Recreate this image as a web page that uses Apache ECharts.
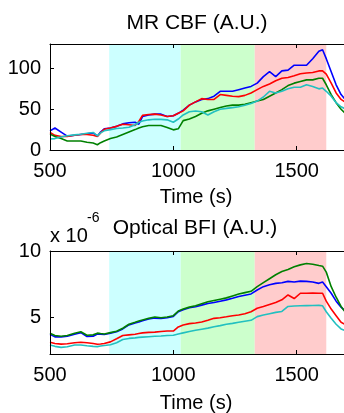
<!DOCTYPE html>
<html>
<head>
<meta charset="utf-8">
<script src="https://cdn.jsdelivr.net/npm/echarts@6/dist/echarts.min.js"></script>
<style>
  html, body { margin: 0; padding: 0; background: #fff; overflow: hidden; }
  #chart { width: 344px; height: 413px; }
</style>
</head>
<body>
<div id="chart"></div>
<script>
// time samples (s), shared by both panels
const times = [500, 520, 545, 570, 600, 625, 650, 675, 692, 705, 720, 745, 770, 795, 820, 845, 860, 875, 900, 925,
  950, 975, 1000, 1020, 1040, 1065, 1090, 1115, 1140, 1165, 1190, 1215, 1240, 1265, 1290, 1315, 1340, 1365, 1390, 1415,
  1440, 1465, 1490, 1515, 1540, 1565, 1590, 1605, 1620, 1640, 1660, 1680, 1700, 1720];

// MR CBF (A.U.)
const mrBlue = [23.5, 27, 22, 17, 18, 19, 20, 21, 17, 22, 26, 27, 29, 32, 33.5, 34, 31.6, 41, 43, 44,
  44, 41, 42, 45, 49, 55, 59, 62, 63, 66, 72, 72, 72, 74, 76, 78, 82, 90, 96, 90,
  97, 98, 104, 104, 104, 112, 121, 123, 112, 96, 80, 68, 61, 58];
const mrRed = [21.5, 18, 16.6, 16.6, 18, 19, 19, 18, 16.6, 21, 25.5, 27, 29, 31.6, 31, 30, 35, 42.5, 43.5, 44,
  43, 41, 42, 45, 48, 55, 59, 63, 62, 62, 68, 67, 66, 65.5, 67, 70, 74, 78, 81, 85,
  88, 89, 91, 93.5, 94.5, 95, 97, 97, 93, 82, 70, 62, 58, 55];
const mrGreen = [19.5, 16.6, 14, 11, 11, 11, 9.5, 8.5, 6.5, 9, 11, 14, 16, 19, 22, 25, 27, 28.5, 30, 30,
  30, 27.5, 24.7, 26, 36, 38, 41, 45, 48, 50, 52, 54, 55, 55, 56, 58, 60, 62, 66, 70,
  74, 79, 82, 84, 86, 86, 88, 88, 80, 68, 58, 50, 44, 41];
const mrCyan = [13.4, 14, 16, 17.4, 18.5, 19.4, 20.5, 21.5, 17.4, 21, 23.5, 25, 26.3, 27, 28, 31, 34, 35.5, 37, 37.7,
  37.5, 37, 34, 38, 43, 47, 47.8, 47, 43, 47, 50, 51, 52, 53, 55, 57, 60, 65, 72, 70,
  72, 75, 77, 77, 80, 78, 75, 76, 72, 66, 58, 53, 50, 48];

// Optical BFI (x 10^-6)
const bfiBlue = [3.7, 3.5, 3.5, 3.55, 3.7, 3.82, 3.52, 3.55, 3.72, 3.7, 3.68, 3.78, 3.88, 4.1, 4.4, 4.55, 4.62, 4.72, 4.85, 4.92,
  4.9, 4.95, 5.05, 5.4, 5.55, 5.7, 5.78, 5.9, 6.02, 6.1, 6.2, 6.3, 6.42, 6.55, 6.65, 6.75, 7.05, 7.3, 7.45, 7.55,
  7.6, 7.7, 7.65, 7.72, 7.7, 7.65, 7.55, 7.65, 7.3, 6.8, 6.2, 5.75, 5.4, 5.2];
const bfiGreen = [3.77, 3.6, 3.55, 3.6, 3.77, 3.88, 3.62, 3.65, 3.78, 3.75, 3.72, 3.82, 3.92, 4.15, 4.45, 4.6, 4.7, 4.78, 4.9, 5.0,
  4.95, 5.0, 5.1, 5.45, 5.6, 5.75, 5.85, 6.0, 6.15, 6.25, 6.35, 6.45, 6.6, 6.75, 6.85, 6.95, 7.3, 7.6, 7.9, 8.2,
  8.45, 8.6, 8.8, 8.95, 9.05, 9.0, 8.9, 8.85, 8.4, 7.3, 6.5, 5.8, 5.3, 5.0];
const bfiRed = [3.09, 3.0, 2.95, 2.98, 3.05, 3.09, 3.05, 3.0, 2.94, 2.96, 3.0, 3.12, 3.35, 3.6, 3.65, 3.7, 3.75, 3.8, 3.84, 3.86,
  3.9, 3.94, 3.94, 4.25, 4.4, 4.5, 4.55, 4.62, 4.75, 4.9, 4.95, 5.02, 5.1, 5.15, 5.25, 5.4, 5.66, 5.8, 5.95, 6.1,
  6.3, 6.67, 6.4, 6.8, 6.8, 6.82, 6.8, 6.8, 6.2, 5.6, 5.1, 4.6, 4.4, 4.25];
const bfiCyan = [2.88, 2.78, 2.7, 2.75, 2.88, 2.88, 2.82, 2.78, 2.76, 2.8, 2.84, 2.9, 3.05, 3.3, 3.38, 3.42, 3.46, 3.48, 3.51, 3.54,
  3.56, 3.6, 3.62, 3.72, 3.8, 3.9, 4.0, 4.08, 4.16, 4.27, 4.35, 4.45, 4.52, 4.6, 4.68, 4.75, 5.03, 5.15, 5.25, 5.35,
  5.42, 5.8, 5.84, 5.85, 5.86, 5.87, 5.88, 5.85, 5.4, 4.9, 4.45, 4.1, 3.95, 3.8];

// shaded task periods
const bandStarts = [740, 1030, 1330];
const bandEnds = [1030, 1330, 1620];
const bandColors = ['#ccffff', '#ccffcc', '#ffcccc'];

const xTicks = [500, 1000, 1500, 2000];
const mrTicks = [0, 50, 100];
const bfiTicks = [5, 10];

const font = '"Liberation Sans", Arial, sans-serif';
const chart = echarts.init(document.getElementById('chart'));

function xAxes(gridIndex) {
  return [
    {
      gridIndex, type: 'value', min: 500, max: 2000, position: 'bottom', z: 10,
      splitLine: { show: false },
      axisLine: { lineStyle: { color: '#000', width: 1 } },
      axisTick: { inside: true, length: 4, customValues: xTicks, lineStyle: { color: '#000' } },
      axisLabel: { customValues: xTicks, formatter: v => String(v), margin: 11, color: '#000', fontFamily: font, fontSize: 20 }
    },
    {
      gridIndex, type: 'value', min: 500, max: 2000, position: 'top', z: 10,
      splitLine: { show: false },
      axisLine: { lineStyle: { color: '#000', width: 1 } },
      axisTick: { inside: true, length: 4, customValues: xTicks, lineStyle: { color: '#000' } },
      axisLabel: { show: false }
    }
  ];
}

function yAxis(gridIndex, min, max, ticks) {
  return {
    gridIndex, type: 'value', min, max, z: 10,
    splitLine: { show: false },
    axisLine: { show: true, lineStyle: { color: '#000', width: 1 } },
    axisTick: { show: true, inside: true, length: 4, customValues: ticks, lineStyle: { color: '#000' } },
    axisLabel: { customValues: ticks, margin: 9, color: '#000', fontFamily: font, fontSize: 20 }
  };
}

function bands(axisIndex) {
  return {
    type: 'line', xAxisIndex: axisIndex, yAxisIndex: axisIndex / 2, data: [], silent: true, z: 1,
    markArea: {
      silent: true,
      data: bandStarts.map((s, i) => [{ xAxis: s, itemStyle: { color: bandColors[i], opacity: 1 } }, { xAxis: bandEnds[i] }])
    }
  };
}

function line(values, color, axisIndex) {
  return {
    type: 'line', xAxisIndex: axisIndex, yAxisIndex: axisIndex / 2, z: 3,
    data: times.map((t, i) => [t, values[i]]),
    symbol: 'none', lineStyle: { color, width: 1.6 }, itemStyle: { color }
  };
}

function label(text, x, y, size, align) {
  return {
    type: 'text', x, y,
    style: { text, fill: '#000', font: size + 'px ' + font, textAlign: align || 'center', textVerticalAlign: 'middle' }
  };
}

const option = {
  animation: false,
  backgroundColor: '#fff',
  grid: [
    { left: 50, top: 44, width: 370, height: 106, outerBoundsMode: 'none', containLabel: false },
    { left: 50, top: 251, width: 370, height: 103, outerBoundsMode: 'none', containLabel: false }
  ],
  xAxis: [...xAxes(0), ...xAxes(1)],
  yAxis: [yAxis(0, 0, 130, mrTicks), yAxis(1, 2.2, 10, bfiTicks)],
  series: [
    bands(0),
    line(mrBlue, '#0000ff', 0),
    line(mrRed, '#ff0000', 0),
    line(mrGreen, '#008000', 0),
    line(mrCyan, '#22c0c0', 0),
    bands(2),
    line(bfiBlue, '#0000ff', 2),
    line(bfiGreen, '#008000', 2),
    line(bfiRed, '#ff0000', 2),
    line(bfiCyan, '#22c0c0', 2)
  ],
  graphic: [
    label('MR CBF (A.U.)', 197, 23, 21),
    label('Time (s)', 196, 197, 20),
    label('Optical BFI (A.U.)', 195, 228, 21),
    label('x 10', 50, 236, 20, 'left'),
    label('-6', 87, 218, 14, 'left'),
    label('Time (s)', 196, 403, 20)
  ]
};

chart.setOption(option);
</script>
</body>
</html>
